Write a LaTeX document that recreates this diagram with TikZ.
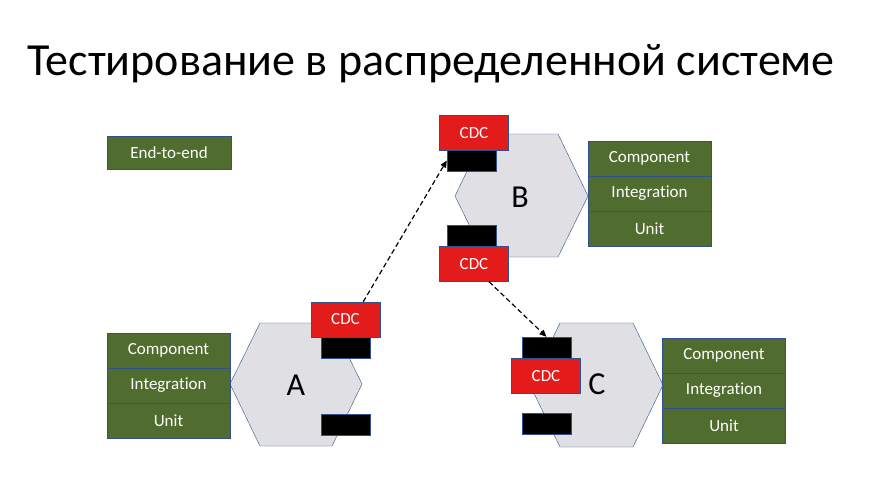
\documentclass[tikz,border=0pt]{standalone}
\usepackage{fontspec}
\setmainfont{Carlito}[Ligatures=NoCommon]
\usetikzlibrary{arrows.meta}

\definecolor{levelgreen}{RGB}{80,108,46}
\definecolor{edgeblue}{RGB}{47,82,143}
\definecolor{cdcred}{RGB}{227,27,27}
\definecolor{hexgray}{RGB}{224,224,228}

\tikzset{
  level/.style={draw=edgeblue, fill=levelgreen, text=white, minimum width=123pt,
    minimum height=35pt, inner sep=0pt, font=\fontsize{17}{19}\selectfont},
  cdc/.style={draw=edgeblue, fill=cdcred, text=white, minimum width=69pt,
    minimum height=35pt, inner sep=0pt, font=\fontsize{17}{19}\selectfont},
  port/.style={draw=edgeblue, fill=black, minimum width=49pt, minimum height=21pt, inner sep=0pt},
  hexa/.style={draw=edgeblue, fill=hexgray},
  svcname/.style={font=\fontsize{32}{34}\selectfont},
  contract/.style={-{Triangle[length=7pt,width=6pt]}, dashed, line width=1.2pt, dash pattern=on 5pt off 3pt}
}

\begin{document}
\begin{tikzpicture}[x=1pt, y=-1pt]
    \useasboundingbox[fill=white] (0,0) rectangle (877,501);

    % Title
    \node[anchor=base, font=\fontsize{46}{49}\selectfont] (title) at (431,75) {Тестирование в распределенной системе};

    % End-to-end
    \node[level, minimum width=124pt, minimum height=33pt] (e2e) at (169,152.5) {End-to-end};

    % Service A
    \path[hexa] (230,384) -- (260,323) -- (332,323) -- (362,384) -- (332,446) -- (260,446) -- cycle;
    \node[svcname] (nameA) at (296,385) {A};
    \node[level] (compA) at (168.5,350.5) {Component};
    \node[level] (integA) at (168.5,385.5) {Integration};
    \node[level] (unitA) at (168.5,420.5) {Unit};
    \node[port] (portA1) at (346,347.5) {};
    \node[port] (portA2) at (346,424.5) {};
    \node[cdc] (cdcA) at (345.5,319.5) {CDC};

    % Service B
    \path[hexa] (455,196) -- (485,134) -- (558,134) -- (588,196) -- (558,257) -- (485,257) -- cycle;
    \node[svcname] (nameB) at (520,197) {B};
    \node[level] (compB) at (649.5,158.5) {Component};
    \node[level] (integB) at (649.5,193.5) {Integration};
    \node[level] (unitB) at (649.5,228.5) {Unit};
    \node[port] (portB1) at (471.5,160.5) {};
    \node[port] (portB2) at (471.5,236) {};
    \node[cdc] (cdcB1) at (474,133) {CDC};
    \node[cdc] (cdcB2) at (474,264) {CDC};

    % Service C
    \path[hexa] (530,385) -- (560,323) -- (633,323) -- (663,385) -- (633,447) -- (560,447) -- cycle;
    \node[svcname] (nameC) at (597,384) {C};
    \node[level] (compC) at (724,355.5) {Component};
    \node[level] (integC) at (724,390.5) {Integration};
    \node[level] (unitC) at (724,425.5) {Unit};
    \node[port] (portC1) at (546.5,347.5) {};
    \node[port] (portC2) at (546.5,424) {};
    \node[cdc] (cdcC) at (546,376) {CDC};

    % Contracts
    \draw[contract] (cdcA.45) -- (portB1.west);
    \draw[contract] ([xshift=15pt]cdcB2.south) -- (portC1.north);
\end{tikzpicture}
\end{document}
